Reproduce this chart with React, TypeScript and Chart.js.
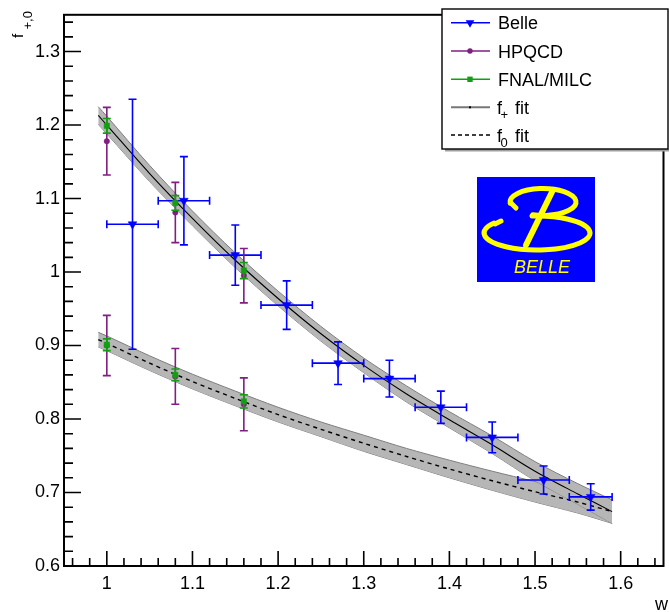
import { useEffect, useRef } from 'react';
import { Chart, registerables } from 'chart.js';

Chart.register(...registerables);

const FONT = '"Liberation Sans", Arial, Helvetica, sans-serif';

// ---- axis ticks ----
const xTickValues = [1.0, 1.1, 1.2, 1.3, 1.4, 1.5, 1.6];
const yTickValues = [0.6, 0.7, 0.8, 0.9, 1.0, 1.1, 1.2, 1.3];

// ---- Belle data ----
const belleW = [1.03, 1.09, 1.15, 1.21, 1.27, 1.33, 1.39, 1.45, 1.51, 1.565];
const belleWErr = [0.03, 0.03, 0.03, 0.03, 0.03, 0.03, 0.03, 0.03, 0.03, 0.025];
const belleF = [1.065, 1.097, 1.023, 0.955, 0.876, 0.855, 0.816, 0.775, 0.717, 0.694];
const belleFErr = [0.17, 0.06, 0.041, 0.033, 0.029, 0.025, 0.022, 0.021, 0.019, 0.018];

// ---- HPQCD ----
const hpqcdW = [1.0, 1.08, 1.16];
const hpqcdFplus = [1.178, 1.081, 0.995];
const hpqcdFplusErr = [0.046, 0.041, 0.037];
const hpqcdF0 = [0.9, 0.858, 0.82];
const hpqcdF0Err = [0.041, 0.038, 0.036];

// ---- FNAL/MILC ----
const fnalW = [1.0, 1.08, 1.16];
const fnalFplus = [1.199, 1.094, 1.002];
const fnalFplusErr = [0.01, 0.01, 0.011];
const fnalF0 = [0.901, 0.86, 0.824];
const fnalF0Err = [0.008, 0.008, 0.009];

// ---- fits ----
const fitW = [0.99, 1.0, 1.05, 1.1, 1.15, 1.2, 1.25, 1.3, 1.35, 1.4, 1.45, 1.5, 1.55, 1.59];
const fPlusFit = [1.213, 1.2, 1.134, 1.073, 1.016, 0.964, 0.916, 0.873, 0.834, 0.799, 0.765, 0.729, 0.698, 0.674];
const fPlusBand = [0.012, 0.012, 0.011, 0.01, 0.01, 0.01, 0.01, 0.01, 0.011, 0.011, 0.012, 0.013, 0.014, 0.016];
const fZeroFit = [0.908, 0.903, 0.876, 0.851, 0.828, 0.806, 0.786, 0.767, 0.749, 0.732, 0.716, 0.701, 0.687, 0.674];
const fZeroBand = [0.01, 0.01, 0.01, 0.01, 0.01, 0.01, 0.01, 0.011, 0.011, 0.012, 0.013, 0.014, 0.015, 0.016];

const BLUE = '#0000ff';
const PURPLE = '#7f1f7f';
const GREEN = '#12a012';
const BAND_FILL = 'rgb(182,182,182)';
const BAND_EDGE = 'rgb(125,125,125)';

const fmt = (v: number) => String(Math.round(v * 10) / 10);
const pts = (xs: number[], ys: number[]) => xs.map((x, i) => ({ x, y: ys[i] }));

const errorBarPlugin = {
  id: 'errorBars',
  beforeDatasetDraw(chart: any, args: any) {
    const ds: any = chart.data.datasets[args.index];
    if (!ds.yErr && !ds.xErr) return;
    const ctx = chart.ctx;
    const xs = chart.scales.x;
    const ys = chart.scales.y;
    const cap = 4;
    ctx.save();
    ctx.strokeStyle = ds.errColor;
    ctx.lineWidth = 1.6;
    ctx.beginPath();
    ds.data.forEach((p: any, i: number) => {
      const px = xs.getPixelForValue(p.x);
      const py = ys.getPixelForValue(p.y);
      if (ds.yErr) {
        const t = ys.getPixelForValue(p.y + ds.yErr[i]);
        const b = ys.getPixelForValue(p.y - ds.yErr[i]);
        ctx.moveTo(px, t); ctx.lineTo(px, b);
        ctx.moveTo(px - cap, t); ctx.lineTo(px + cap, t);
        ctx.moveTo(px - cap, b); ctx.lineTo(px + cap, b);
      }
      if (ds.xErr) {
        const l = xs.getPixelForValue(p.x - ds.xErr[i]);
        const r = xs.getPixelForValue(p.x + ds.xErr[i]);
        ctx.moveTo(l, py); ctx.lineTo(r, py);
        ctx.moveTo(l, py - cap); ctx.lineTo(l, py + cap);
        ctx.moveTo(r, py - cap); ctx.lineTo(r, py + cap);
      }
    });
    ctx.stroke();
    ctx.restore();
  },
};

const framePlugin = {
  id: 'frame',
  afterDatasetsDraw(chart: any) {
    const { ctx, chartArea: a } = chart;
    const xs = chart.scales.x;
    const ys = chart.scales.y;
    ctx.save();
    ctx.strokeStyle = '#000';
    ctx.lineWidth = 2;
    ctx.strokeRect(a.left, a.top, a.right - a.left, a.bottom - a.top);
    ctx.lineWidth = 1.6;
    ctx.beginPath();
    for (let k = 48; k <= 82; k++) {
      const px = xs.getPixelForValue(k * 0.02);
      const len = k % 5 === 0 ? 15 : 8;
      ctx.moveTo(px, a.bottom);
      ctx.lineTo(px, a.bottom - len);
    }
    for (let k = 31; k <= 67; k++) {
      const py = ys.getPixelForValue(k * 0.02);
      const len = k % 5 === 0 ? 17 : 9;
      ctx.moveTo(a.left, py);
      ctx.lineTo(a.left + len, py);
    }
    ctx.stroke();
    ctx.restore();
  },
};

function drawMarker(ctx: CanvasRenderingContext2D, kind: string, x: number, y: number, color: string) {
  ctx.fillStyle = color;
  ctx.beginPath();
  if (kind === 'tri') {
    ctx.moveTo(x - 4.3, y - 2.5);
    ctx.lineTo(x + 4.3, y - 2.5);
    ctx.lineTo(x, y + 5);
    ctx.closePath();
  } else if (kind === 'circle') {
    ctx.arc(x, y, 2.7, 0, Math.PI * 2);
  } else {
    ctx.rect(x - 2.7, y - 2.7, 5.4, 5.4);
  }
  ctx.fill();
}

const decorPlugin = {
  id: 'decor',
  afterDraw(chart: any) {
    const ctx: CanvasRenderingContext2D = chart.ctx;
    ctx.save();

    // ---- legend ----
    const lx0 = 442, ly0 = 9, lx1 = 668, ly1 = 149;
    ctx.fillStyle = '#a0a0a0';
    ctx.fillRect(lx0 + 3, ly1, lx1 - lx0, 2.5);
    ctx.fillStyle = '#fff';
    ctx.fillRect(lx0, ly0, lx1 - lx0, ly1 - ly0);
    ctx.strokeStyle = '#000';
    ctx.lineWidth = 1.4;
    ctx.strokeRect(lx0, ly0, lx1 - lx0, ly1 - ly0);

    const rows = [22.7, 51, 79.3, 107.3, 135];
    const sx0 = 451, sx1 = 490, mx = 470, tx = 498;
    ctx.textAlign = 'left';
    ctx.textBaseline = 'alphabetic';
    const lineEntry = (y: number, color: string, w: number, dash: number[]) => {
      ctx.strokeStyle = color;
      ctx.lineWidth = w;
      ctx.setLineDash(dash);
      ctx.beginPath();
      ctx.moveTo(sx0, y);
      ctx.lineTo(sx1, y);
      ctx.stroke();
      ctx.setLineDash([]);
    };
    lineEntry(rows[0], BLUE, 1.6, []);
    drawMarker(ctx, 'tri', mx, rows[0], BLUE);
    lineEntry(rows[1], PURPLE, 1.6, []);
    drawMarker(ctx, 'circle', mx, rows[1], PURPLE);
    lineEntry(rows[2], GREEN, 1.6, []);
    drawMarker(ctx, 'rect', mx, rows[2], GREEN);
    lineEntry(rows[3], '#777', 2, []);
    ctx.fillStyle = '#000';
    ctx.fillRect(mx - 1, rows[3] - 1, 2, 2);
    lineEntry(rows[4], '#000', 1.4, [4, 3]);

    ctx.fillStyle = '#000';
    ctx.font = `18px ${FONT}`;
    ctx.fillText('Belle', tx, rows[0] + 6.5);
    ctx.fillText('HPQCD', tx, rows[1] + 6.5);
    ctx.fillText('FNAL/MILC', tx, rows[2] + 6.5);
    const subEntry = (y: number, sub: string) => {
      ctx.font = `18px ${FONT}`;
      ctx.fillText('f', tx - 1, y + 6.5);
      ctx.font = `13px ${FONT}`;
      ctx.fillText(sub, tx + 2.5, y + 11.5);
      ctx.font = `18px ${FONT}`;
      ctx.fillText('fit', tx + 17, y + 6.5);
    };
    subEntry(rows[3], '+');
    subEntry(rows[4], '0');

    // ---- Belle logo ----
    ctx.fillStyle = '#0000ff';
    ctx.fillRect(477, 177, 118, 105);
    ctx.strokeStyle = '#ffff00';
    ctx.lineCap = 'round';
    ctx.lineWidth = 5;
    ctx.beginPath();
    ctx.ellipse(543, 202, 33, 13.5, 0, Math.PI * 0.97, Math.PI * 2.6);
    ctx.stroke();
    ctx.beginPath();
    ctx.moveTo(511, 203);
    ctx.lineTo(516, 208);
    ctx.stroke();
    ctx.beginPath();
    ctx.ellipse(537, 233, 53, 17, 0, Math.PI * 1.2, -Math.PI * 0.53, true);
    ctx.stroke();
    ctx.beginPath();
    ctx.moveTo(495, 224);
    ctx.lineTo(501, 221);
    ctx.stroke();
    ctx.lineWidth = 6;
    ctx.beginPath();
    ctx.moveTo(552, 192);
    ctx.lineTo(526, 245);
    ctx.stroke();
    ctx.lineCap = 'butt';
    ctx.fillStyle = '#ffff00';
    ctx.font = `italic 18px ${FONT}`;
    ctx.textAlign = 'center';
    ctx.fillText('BELLE', 542, 273);

    // ---- axis titles ----
    ctx.fillStyle = '#000';
    ctx.textAlign = 'right';
    ctx.font = `18px ${FONT}`;
    ctx.fillText('w', 668, 610);

    ctx.save();
    ctx.translate(23, 38);
    ctx.rotate(-Math.PI / 2);
    ctx.textAlign = 'left';
    ctx.font = `15px ${FONT}`;
    ctx.fillText('f', 0, 0);
    ctx.font = `13px ${FONT}`;
    ctx.fillText('+,0', 8.5, 8.5);
    ctx.restore();

    ctx.restore();
  },
};

export default function App() {
  const ref = useRef<HTMLCanvasElement | null>(null);

  useEffect(() => {
    if (!ref.current) return;
    const bandUpper = (f: number[], b: number[]) => fitW.map((x, i) => ({ x, y: f[i] + b[i] }));
    const bandLower = (f: number[], b: number[]) => fitW.map((x, i) => ({ x, y: f[i] - b[i] }));
    const bandStyle = {
      type: 'line',
      borderColor: BAND_EDGE,
      borderWidth: 1,
      backgroundColor: BAND_FILL,
      pointRadius: 0,
      tension: 0.3,
      order: 10,
    };
    const pointStyle = (color: string) => ({
      type: 'line',
      showLine: false,
      borderColor: color,
      backgroundColor: color,
      pointBorderColor: color,
      pointBackgroundColor: color,
      pointBorderWidth: 0.5,
      errColor: color,
    });

    const chart = new Chart(ref.current, {
      type: 'line',
      data: {
        datasets: [
          { ...bandStyle, label: 'f+ band hi', data: bandUpper(fPlusFit, fPlusBand), fill: '+1' },
          { ...bandStyle, label: 'f+ band lo', data: bandLower(fPlusFit, fPlusBand), fill: false },
          { ...bandStyle, label: 'f0 band hi', data: bandUpper(fZeroFit, fZeroBand), fill: '+1' },
          { ...bandStyle, label: 'f0 band lo', data: bandLower(fZeroFit, fZeroBand), fill: false },
          {
            type: 'line', label: 'f+ fit', data: pts(fitW, fPlusFit), borderColor: '#000', borderWidth: 1.1,
            pointRadius: 0, tension: 0.3, fill: false, order: 5,
          },
          {
            type: 'line', label: 'f0 fit', data: pts(fitW, fZeroFit), borderColor: '#000', borderWidth: 1.4,
            borderDash: [4, 4], pointRadius: 0, tension: 0.3, fill: false, order: 5,
          },
          {
            ...pointStyle(BLUE), label: 'Belle', data: pts(belleW, belleF), pointStyle: 'triangle',
            rotation: 180, pointRadius: 5, xErr: belleWErr, yErr: belleFErr, order: 3,
          },
          {
            ...pointStyle(PURPLE), label: 'HPQCD', data: pts(hpqcdW, hpqcdFplus), pointStyle: 'circle',
            pointRadius: 2.7, yErr: hpqcdFplusErr, order: 2,
          },
          {
            ...pointStyle(PURPLE), label: 'HPQCD f0', data: pts(hpqcdW, hpqcdF0), pointStyle: 'circle',
            pointRadius: 2.7, yErr: hpqcdF0Err, order: 2,
          },
          {
            ...pointStyle(GREEN), label: 'FNAL/MILC', data: pts(fnalW, fnalFplus), pointStyle: 'rect',
            pointRadius: 3.8, yErr: fnalFplusErr, order: 1,
          },
          {
            ...pointStyle(GREEN), label: 'FNAL/MILC f0', data: pts(fnalW, fnalF0), pointStyle: 'rect',
            pointRadius: 3.8, yErr: fnalF0Err, order: 1,
          },
        ] as any,
      },
      options: {
        animation: false,
        responsive: false,
        devicePixelRatio: 1,
        layout: { padding: { top: 9, right: 1, left: 0, bottom: 0 } },
        plugins: {
          legend: { display: false },
          tooltip: { enabled: false },
        },
        scales: {
          x: {
            type: 'linear',
            min: 0.95,
            max: 1.65,
            grid: { display: false, drawTicks: false },
            border: { display: false },
            ticks: {
              color: '#000',
              font: { family: FONT, size: 18 },
              padding: 7,
              callback: (v: any) => fmt(Number(v)),
            },
            afterBuildTicks: (s: any) => {
              s.ticks = xTickValues.map((value) => ({ value }));
            },
            afterFit: (s: any) => {
              s.height = 46;
            },
          },
          y: {
            type: 'linear',
            min: 0.6,
            max: 1.35,
            grid: { display: false, drawTicks: false },
            border: { display: false },
            ticks: {
              color: '#000',
              font: { family: FONT, size: 18 },
              padding: 4,
              callback: (v: any) => fmt(Number(v)),
            },
            afterBuildTicks: (s: any) => {
              s.ticks = yTickValues.map((value) => ({ value }));
            },
            afterFit: (s: any) => {
              s.width = 64;
            },
          },
        },
      } as any,
      plugins: [errorBarPlugin, framePlugin, decorPlugin],
    });
    return () => chart.destroy();
  }, []);

  return (
    <div style={{ position: 'absolute', left: 0, top: 0, width: 669, height: 612, background: '#fff' }}>
      <canvas ref={ref} width={669} height={612} style={{ display: 'block' }} />
    </div>
  );
}
